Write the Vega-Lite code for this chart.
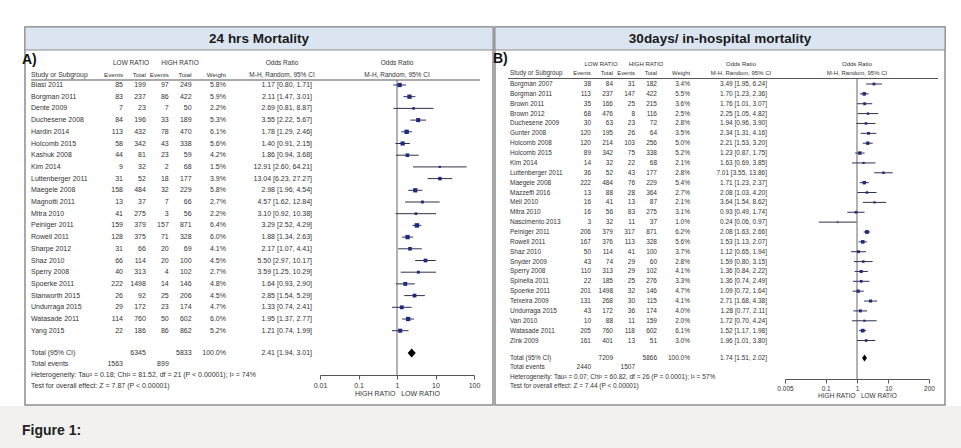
{
"$schema":"https://vega.github.io/schema/vega-lite/v6.json",
"width":961,"height":448,"autosize":{"type":"none"},"padding":0,
"background":"#f3f0f0",
"config":{"view":{"stroke":null},"text":{"font":"Liberation Sans","color":"#333333","baseline":"middle"}},
"datasets":{
"page":[{"caption":"Figure 1:"}],
"panels":[{"panel":"A","title":"24 hrs Mortality","tag":"A)","null_or":1},{"panel":"B","title":"30days/ in-hospital  mortality","tag":"B)","null_or":1}],
"hdr":[
{"panel":"A","line":"g","col":"low","text":"LOW RATIO"},
{"panel":"A","line":"g","col":"high","text":"HIGH RATIO"},
{"panel":"A","line":"g","col":"ortab","text":"Odds Ratio"},
{"panel":"A","line":"g","col":"orplot","text":"Odds Ratio"},
{"panel":"A","line":"c","col":"study","text":"Study or Subgroup"},
{"panel":"A","line":"c","col":"e1","text":"Events"},
{"panel":"A","line":"c","col":"n1","text":"Total"},
{"panel":"A","line":"c","col":"e2","text":"Events"},
{"panel":"A","line":"c","col":"n2","text":"Total"},
{"panel":"A","line":"c","col":"w","text":"Weight"},
{"panel":"A","line":"c","col":"ortab","text":"M-H, Random, 95% CI"},
{"panel":"A","line":"c","col":"orplot","text":"M-H, Random, 95% CI"},
{"panel":"B","line":"g","col":"low","text":"LOW RATIO"},
{"panel":"B","line":"g","col":"high","text":"HIGH RATIO"},
{"panel":"B","line":"g","col":"ortab","text":"Odds Ratio"},
{"panel":"B","line":"g","col":"orplot","text":"Odds Ratio"},
{"panel":"B","line":"c","col":"study","text":"Study or Subgroup"},
{"panel":"B","line":"c","col":"e1","text":"Events"},
{"panel":"B","line":"c","col":"n1","text":"Total"},
{"panel":"B","line":"c","col":"e2","text":"Events"},
{"panel":"B","line":"c","col":"n2","text":"Total"},
{"panel":"B","line":"c","col":"w","text":"Weight"},
{"panel":"B","line":"c","col":"ortab","text":"M-H, Random, 95% CI"},
{"panel":"B","line":"c","col":"orplot","text":"M-H, Random, 95% CI"}
],
"A":[
{"study":"Biasi 2011","e1":85,"n1":199,"e2":97,"n2":249,"w":5.8,"or":1.17,"lo":0.80,"hi":1.71},
{"study":"Borgman 2011","e1":83,"n1":237,"e2":86,"n2":422,"w":5.9,"or":2.11,"lo":1.47,"hi":3.01},
{"study":"Dente 2009","e1":7,"n1":23,"e2":7,"n2":50,"w":2.2,"or":2.69,"lo":0.81,"hi":8.87},
{"study":"Duchesene 2008","e1":84,"n1":196,"e2":33,"n2":189,"w":5.3,"or":3.55,"lo":2.22,"hi":5.67},
{"study":"Hardin 2014","e1":113,"n1":432,"e2":78,"n2":470,"w":6.1,"or":1.78,"lo":1.29,"hi":2.46},
{"study":"Holcomb 2015","e1":58,"n1":342,"e2":43,"n2":338,"w":5.6,"or":1.40,"lo":0.91,"hi":2.15},
{"study":"Kashuk 2008","e1":44,"n1":81,"e2":23,"n2":59,"w":4.2,"or":1.86,"lo":0.94,"hi":3.68},
{"study":"Kim 2014","e1":9,"n1":32,"e2":2,"n2":68,"w":1.5,"or":12.91,"lo":2.60,"hi":64.21},
{"study":"Luttenberger 2011","e1":31,"n1":52,"e2":18,"n2":177,"w":3.9,"or":13.04,"lo":6.23,"hi":27.27},
{"study":"Maegele 2008","e1":158,"n1":484,"e2":32,"n2":229,"w":5.8,"or":2.98,"lo":1.96,"hi":4.54},
{"study":"Magnotti 2011","e1":13,"n1":37,"e2":7,"n2":66,"w":2.7,"or":4.57,"lo":1.62,"hi":12.84},
{"study":"Mitra 2010","e1":41,"n1":275,"e2":3,"n2":56,"w":2.2,"or":3.10,"lo":0.92,"hi":10.38},
{"study":"Peiniger 2011","e1":159,"n1":379,"e2":157,"n2":871,"w":6.4,"or":3.29,"lo":2.52,"hi":4.29},
{"study":"Rowell 2011","e1":128,"n1":375,"e2":71,"n2":328,"w":6.0,"or":1.88,"lo":1.34,"hi":2.63},
{"study":"Sharpe 2012","e1":31,"n1":66,"e2":20,"n2":69,"w":4.1,"or":2.17,"lo":1.07,"hi":4.41},
{"study":"Shaz 2010","e1":66,"n1":114,"e2":20,"n2":100,"w":4.5,"or":5.50,"lo":2.97,"hi":10.17},
{"study":"Sperry 2008","e1":40,"n1":313,"e2":4,"n2":102,"w":2.7,"or":3.59,"lo":1.25,"hi":10.29},
{"study":"Spoerke 2011","e1":222,"n1":1498,"e2":14,"n2":146,"w":4.8,"or":1.64,"lo":0.93,"hi":2.90},
{"study":"Stanworth 2015","e1":26,"n1":92,"e2":25,"n2":206,"w":4.5,"or":2.85,"lo":1.54,"hi":5.29},
{"study":"Undurraga 2015","e1":29,"n1":172,"e2":23,"n2":174,"w":4.7,"or":1.33,"lo":0.74,"hi":2.41},
{"study":"Watasade 2011","e1":114,"n1":760,"e2":50,"n2":602,"w":6.0,"or":1.95,"lo":1.37,"hi":2.77},
{"study":"Yang 2015","e1":22,"n1":186,"e2":86,"n2":862,"w":5.2,"or":1.21,"lo":0.74,"hi":1.99}
],
"B":[
{"study":"Borgman 2007","e1":38,"n1":84,"e2":31,"n2":182,"w":3.4,"or":3.49,"lo":1.95,"hi":6.24},
{"study":"Borgman 2011","e1":113,"n1":237,"e2":147,"n2":422,"w":5.5,"or":1.70,"lo":1.23,"hi":2.36},
{"study":"Brown 2011","e1":35,"n1":166,"e2":25,"n2":215,"w":3.6,"or":1.76,"lo":1.01,"hi":3.07},
{"study":"Brown 2012","e1":68,"n1":476,"e2":8,"n2":116,"w":2.5,"or":2.25,"lo":1.05,"hi":4.82},
{"study":"Duchesene 2009","e1":30,"n1":63,"e2":23,"n2":72,"w":2.8,"or":1.94,"lo":0.96,"hi":3.90},
{"study":"Gunter 2008","e1":120,"n1":195,"e2":26,"n2":64,"w":3.5,"or":2.34,"lo":1.31,"hi":4.16},
{"study":"Holcomb 2008","e1":120,"n1":214,"e2":103,"n2":256,"w":5.0,"or":2.21,"lo":1.53,"hi":3.20},
{"study":"Holcomb 2015","e1":89,"n1":342,"e2":75,"n2":338,"w":5.2,"or":1.23,"lo":0.87,"hi":1.75},
{"study":"Kim 2014","e1":14,"n1":32,"e2":22,"n2":68,"w":2.1,"or":1.63,"lo":0.69,"hi":3.85},
{"study":"Luttenberger 2011","e1":36,"n1":52,"e2":43,"n2":177,"w":2.8,"or":7.01,"lo":3.55,"hi":13.86},
{"study":"Maegele 2008","e1":222,"n1":484,"e2":76,"n2":229,"w":5.4,"or":1.71,"lo":1.23,"hi":2.37},
{"study":"Mazzeffi 2016","e1":13,"n1":88,"e2":28,"n2":364,"w":2.7,"or":2.08,"lo":1.03,"hi":4.20},
{"study":"Meli 2010","e1":16,"n1":41,"e2":13,"n2":87,"w":2.1,"or":3.64,"lo":1.54,"hi":8.62},
{"study":"Mitra 2010","e1":16,"n1":56,"e2":83,"n2":275,"w":3.1,"or":0.93,"lo":0.49,"hi":1.74},
{"study":"Nascimento 2013","e1":3,"n1":32,"e2":11,"n2":37,"w":1.0,"or":0.24,"lo":0.06,"hi":0.97},
{"study":"Peiniger 2011","e1":206,"n1":379,"e2":317,"n2":871,"w":6.2,"or":2.08,"lo":1.63,"hi":2.66},
{"study":"Rowell 2011","e1":167,"n1":376,"e2":113,"n2":328,"w":5.6,"or":1.53,"lo":1.13,"hi":2.07},
{"study":"Shaz 2010","e1":50,"n1":114,"e2":41,"n2":100,"w":3.7,"or":1.12,"lo":0.65,"hi":1.94},
{"study":"Snyder 2009","e1":43,"n1":74,"e2":29,"n2":60,"w":2.8,"or":1.59,"lo":0.80,"hi":3.15},
{"study":"Sperry 2008","e1":110,"n1":313,"e2":29,"n2":102,"w":4.1,"or":1.36,"lo":0.84,"hi":2.22},
{"study":"Spinella 2011","e1":22,"n1":185,"e2":25,"n2":276,"w":3.3,"or":1.36,"lo":0.74,"hi":2.49},
{"study":"Spoerke 2011","e1":201,"n1":1498,"e2":32,"n2":146,"w":4.7,"or":1.09,"lo":0.72,"hi":1.64},
{"study":"Teixeira 2009","e1":131,"n1":268,"e2":30,"n2":115,"w":4.1,"or":2.71,"lo":1.68,"hi":4.38},
{"study":"Undurraga 2015","e1":43,"n1":172,"e2":36,"n2":174,"w":4.0,"or":1.28,"lo":0.77,"hi":2.11},
{"study":"Van 2010","e1":10,"n1":88,"e2":11,"n2":159,"w":2.0,"or":1.72,"lo":0.70,"hi":4.24},
{"study":"Watasade 2011","e1":205,"n1":760,"e2":118,"n2":602,"w":6.1,"or":1.52,"lo":1.17,"hi":1.98},
{"study":"Zink 2009","e1":161,"n1":401,"e2":13,"n2":51,"w":3.0,"or":1.96,"lo":1.01,"hi":3.80}
],
"foot":[
{"panel":"A","row":"total","label":"Total (95% CI)","n1":6345,"n2":5833,"w":100,"or":2.41,"lo":1.94,"hi":3.01},
{"panel":"A","row":"events","label":"Total events","e1":1563,"e2":899},
{"panel":"A","row":"het","label":"Heterogeneity: Tau² = 0.18; Chi² = 81.52, df = 21 (P < 0.00001); I² = 74%"},
{"panel":"A","row":"test","label":"Test for overall effect: Z = 7.87 (P < 0.00001)"},
{"panel":"B","row":"total","label":"Total (95% CI)","n1":7209,"n2":5866,"w":100,"or":1.74,"lo":1.51,"hi":2.02},
{"panel":"B","row":"events","label":"Total events","e1":2440,"e2":1507},
{"panel":"B","row":"het","label":"Heterogeneity: Tau² = 0.07; Chi² = 60.82, df = 26 (P = 0.0001); I² = 57%"},
{"panel":"B","row":"test","label":"Test for overall effect: Z = 7.44 (P < 0.00001)"}
]
},
"resolve":{"scale":{"x":"independent","y":"independent","size":"independent"}},
"layer":[
{"data":{"name":"page"},"mark":{"type":"rect","fill":"#ffffff"},
 "encoding":{"x":{"field":"caption","type":"nominal","scale":{"type":"band","range":[0,961],"padding":0},"axis":null},
 "y":{"field":"caption","type":"nominal","scale":{"type":"band","range":[0,406],"padding":0},"axis":null}}},
{"data":{"name":"page"},"mark":{"type":"text","align":"left","fontSize":14,"fontWeight":"bold","color":"#222222"},
 "encoding":{"x":{"field":"caption","type":"nominal","scale":{"type":"point","range":[22,22],"padding":0},"axis":null},
 "y":{"field":"caption","type":"nominal","scale":{"type":"point","range":[431,431],"padding":0},"axis":null},
 "text":{"field":"caption"}}},

{"data":{"name":"panels"},"transform":[{"filter":"datum.panel == 'A'"}],"mark":{"type":"rect","fill":"#ffffff","stroke":"#8c8c8c","strokeWidth":1.5},
 "encoding":{"x":{"field":"panel","type":"nominal","scale":{"type":"band","domain":["A"],"range":[25,493],"padding":0},"axis":null},
 "y":{"field":"panel","type":"nominal","scale":{"type":"band","domain":["A"],"range":[27,405],"padding":0},"axis":null}}},
{"data":{"name":"panels"},"transform":[{"filter":"datum.panel == 'A'"}],"mark":{"type":"rect","fill":"#dbe5f1","stroke":"#8c8c8c","strokeWidth":1},
 "encoding":{"x":{"field":"panel","type":"nominal","scale":{"type":"band","domain":["A"],"range":[25,493],"padding":0},"axis":null},
 "y":{"field":"panel","type":"nominal","scale":{"type":"band","domain":["A"],"range":[27,50],"padding":0},"axis":null}}},
{"data":{"name":"panels"},"transform":[{"filter":"datum.panel == 'A'"}],"mark":{"type":"text","fontSize":13.5,"fontWeight":"bold","color":"#1a1a1a"},
 "encoding":{"x":{"field":"panel","type":"nominal","scale":{"type":"band","domain":["A"],"range":[25,493],"padding":0},"axis":null},
 "y":{"field":"panel","type":"nominal","scale":{"type":"band","domain":["A"],"range":[27,50],"padding":0},"axis":null},
 "text":{"field":"title"}}},
{"data":{"name":"panels"},"transform":[{"filter":"datum.panel == 'A'"}],"mark":{"type":"text","align":"left","fontSize":14,"fontWeight":"bold","color":"#111111"},
 "encoding":{"x":{"field":"panel","type":"nominal","scale":{"type":"point","range":[22,22],"padding":0},"axis":null},
 "y":{"field":"panel","type":"nominal","scale":{"type":"point","range":[60,60],"padding":0},"axis":null},
 "text":{"field":"tag"}}},
{"data":{"name":"panels"},"transform":[{"filter":"datum.panel == 'A'"}],"mark":{"type":"rect","fill":"#555555"},
 "encoding":{"x":{"field":"panel","type":"nominal","scale":{"type":"band","domain":["A"],"range":[31,480],"padding":0},"axis":null},
 "y":{"field":"panel","type":"nominal","scale":{"type":"band","domain":["A"],"range":[79.5,80.5],"padding":0},"axis":null}}},
{"data":{"name":"panels"},"transform":[{"filter":"datum.panel == 'A'"}],"mark":{"type":"rule","color":"#666666","strokeWidth":1},
 "encoding":{"x":{"field":"null_or","type":"quantitative","scale":{"type":"log","domain":[0.01,100],"range":[320,474],"nice":false},"axis":null},
 "y":{"datum":0,"type":"quantitative","scale":{"domain":[0,1],"range":[80,375],"nice":false,"zero":false},"axis":null},
 "y2":{"datum":1}}},
{"data":{"name":"hdr"},"transform":[{"filter":"datum.panel == 'A' && datum.col == 'study'"}],"mark":{"type":"text","align":"left","fontSize":6.8},
 "encoding":{"x":{"field":"col","type":"nominal","scale":{"type":"point","range":[31,31],"padding":0},"axis":null},
 "y":{"field":"line","type":"nominal","scale":{"type":"point","domain":["g","c"],"range":[63,74.5],"padding":0},"axis":null},
 "text":{"field":"text"}}},
{"data":{"name":"hdr"},"transform":[{"filter":"datum.panel == 'A' && indexof(['e1','n1','e2','n2','w'], datum.col) >= 0"}],"mark":{"type":"text","align":"right","fontSize":6.2},
 "encoding":{"x":{"field":"col","type":"nominal","scale":{"type":"point","domain":["e1","_a","n1","_b","e2","_c","n2","_d","_e","w"],"range":[123,226],"padding":0},"axis":null},
 "y":{"field":"line","type":"nominal","scale":{"type":"point","domain":["g","c"],"range":[63,74.5],"padding":0},"axis":null},
 "text":{"field":"text"}}},
{"data":{"name":"hdr"},"transform":[{"filter":"datum.panel == 'A' && (datum.col == 'low' || datum.col == 'high')"}],"mark":{"type":"text","align":"center","fontSize":6.5},
 "encoding":{"x":{"field":"col","type":"nominal","scale":{"type":"point","domain":["low","high"],"range":[131,180],"padding":0},"axis":null},
 "y":{"field":"line","type":"nominal","scale":{"type":"point","domain":["g","c"],"range":[63,74.5],"padding":0},"axis":null},
 "text":{"field":"text"}}},
{"data":{"name":"hdr"},"transform":[{"filter":"datum.panel == 'A' && (datum.col == 'ortab' || datum.col == 'orplot')"}],"mark":{"type":"text","align":"center","fontSize":6.5},
 "encoding":{"x":{"field":"col","type":"nominal","scale":{"type":"point","domain":["ortab","orplot"],"range":[282,397],"padding":0},"axis":null},
 "y":{"field":"line","type":"nominal","scale":{"type":"point","domain":["g","c"],"range":[63,74.5],"padding":0},"axis":null},
 "text":{"field":"text"}}},
{"data":{"name":"A"},"mark":{"type":"text","align":"left","fontSize":7},
 "encoding":{"x":{"field":"study","type":"nominal","scale":{"type":"point","range":[31,31],"padding":0},"axis":null},
 "y":{"field":"study","type":"nominal","sort":null,"scale":{"type":"point","range":[85,330.7],"padding":0},"axis":null},
 "text":{"field":"study"}}},
{"data":{"name":"A"},"transform":[{"fold":["e1","n1","e2","n2","w"],"as":["col","value"]},{"calculate":"datum.col == 'w' ? format(datum.value, '.1f') + '%' : format(datum.value, 'd')","as":"label"}],
 "mark":{"type":"text","align":"right","fontSize":7},
 "encoding":{"x":{"field":"col","type":"nominal","scale":{"type":"point","domain":["e1","_a","n1","_b","e2","_c","n2","_d","_e","w"],"range":[123,226],"padding":0},"axis":null},
 "y":{"field":"study","type":"nominal","sort":null,"scale":{"type":"point","range":[85,330.7],"padding":0},"axis":null},
 "text":{"field":"label"}}},
{"data":{"name":"A"},"transform":[{"calculate":"format(datum.or, '.2f') + ' [' + format(datum.lo, '.2f') + ', ' + format(datum.hi, '.2f') + ']'","as":"ortext"}],
 "mark":{"type":"text","align":"right","fontSize":7},
 "encoding":{"x":{"field":"study","type":"nominal","scale":{"type":"point","range":[312,312],"padding":0},"axis":null},
 "y":{"field":"study","type":"nominal","sort":null,"scale":{"type":"point","range":[85,330.7],"padding":0},"axis":null},
 "text":{"field":"ortext"}}},
{"data":{"name":"A"},"mark":{"type":"rule","color":"#30304a","strokeWidth":1},
 "encoding":{"x":{"field":"lo","type":"quantitative","scale":{"type":"log","domain":[0.01,100],"range":[320,474],"nice":false},"axis":null},
 "x2":{"field":"hi"},
 "y":{"field":"study","type":"nominal","sort":null,"scale":{"type":"point","range":[85,330.7],"padding":0},"axis":null}}},
{"data":{"name":"A"},"mark":{"type":"point","shape":"square","filled":true,"color":"#1c2a80","opacity":1},
 "encoding":{"x":{"field":"or","type":"quantitative","scale":{"type":"log","domain":[0.01,100],"range":[320,474],"nice":false},
   "axis":{"orient":"bottom","offset":-73,"zindex":1,"values":[0.01,0.1,1,10,100],"format":"~g","grid":false,"domainColor":"#555555","tickColor":"#555555","tickSize":4,"labelFont":"Liberation Sans","labelFontSize":7,"labelColor":"#333333","labelPadding":2,"labelFlush":false,"labelOverlap":false,"title":"HIGH RATIO\u00a0\u00a0\u00a0LOW RATIO","titleFont":"Liberation Sans","titleFontSize":7,"titleFontWeight":"normal","titleColor":"#333333","titlePadding":1}},
 "y":{"field":"study","type":"nominal","sort":null,"scale":{"type":"point","range":[85,330.7],"padding":0},"axis":null},
 "size":{"field":"w","type":"quantitative","scale":{"domain":[0,6.4],"range":[0,20]},"legend":null}}},
{"data":{"name":"foot"},"transform":[{"filter":"datum.panel == 'A'"}],"mark":{"type":"text","align":"left","fontSize":7},
 "encoding":{"x":{"field":"row","type":"nominal","scale":{"type":"point","range":[31,31],"padding":0},"axis":null},
 "y":{"field":"row","type":"nominal","scale":{"type":"point","domain":["total","events","het","test"],"range":[353,386],"padding":0},"axis":null},
 "text":{"field":"label"}}},
{"data":{"name":"foot"},"transform":[{"filter":"datum.panel == 'A'"},{"fold":["e1","n1","e2","n2","w"],"as":["col","value"]},{"filter":"isValid(datum.value)"},{"calculate":"datum.col == 'w' ? format(datum.value, '.1f') + '%' : format(datum.value, 'd')","as":"num"}],
 "mark":{"type":"text","align":"right","fontSize":7},
 "encoding":{"x":{"field":"col","type":"nominal","scale":{"type":"point","domain":["e1","_a","n1","_b","e2","_c","n2","_d","_e","w"],"range":[123,226],"padding":0},"axis":null},
 "y":{"field":"row","type":"nominal","scale":{"type":"point","domain":["total","events","het","test"],"range":[353,386],"padding":0},"axis":null},
 "text":{"field":"num"}}},
{"data":{"name":"foot"},"transform":[{"filter":"datum.panel == 'A' && isValid(datum.or)"},{"calculate":"format(datum.or, '.2f') + ' [' + format(datum.lo, '.2f') + ', ' + format(datum.hi, '.2f') + ']'","as":"ortext"}],
 "mark":{"type":"text","align":"right","fontSize":7},
 "encoding":{"x":{"field":"row","type":"nominal","scale":{"type":"point","range":[312,312],"padding":0},"axis":null},
 "y":{"field":"row","type":"nominal","scale":{"type":"point","domain":["total","events","het","test"],"range":[353,386],"padding":0},"axis":null},
 "text":{"field":"ortext"}}},
{"data":{"name":"foot"},"transform":[{"filter":"datum.panel == 'A' && isValid(datum.or)"}],
 "mark":{"type":"point","shape":"M-0.9,0L0,-1L0.9,0L0,1Z","filled":true,"color":"#000000","opacity":1,"size":81},
 "encoding":{"x":{"field":"or","type":"quantitative","scale":{"type":"log","domain":[0.01,100],"range":[320,474],"nice":false},"axis":null},
 "y":{"field":"row","type":"nominal","scale":{"type":"point","domain":["total","events","het","test"],"range":[353,386],"padding":0},"axis":null}}},

{"data":{"name":"panels"},"transform":[{"filter":"datum.panel == 'B'"}],"mark":{"type":"rect","fill":"#ffffff","stroke":"#8c8c8c","strokeWidth":1.5},
 "encoding":{"x":{"field":"panel","type":"nominal","scale":{"type":"band","domain":["B"],"range":[495,945],"padding":0},"axis":null},
 "y":{"field":"panel","type":"nominal","scale":{"type":"band","domain":["B"],"range":[27,405],"padding":0},"axis":null}}},
{"data":{"name":"panels"},"transform":[{"filter":"datum.panel == 'B'"}],"mark":{"type":"rect","fill":"#dbe5f1","stroke":"#8c8c8c","strokeWidth":1},
 "encoding":{"x":{"field":"panel","type":"nominal","scale":{"type":"band","domain":["B"],"range":[495,945],"padding":0},"axis":null},
 "y":{"field":"panel","type":"nominal","scale":{"type":"band","domain":["B"],"range":[27,50],"padding":0},"axis":null}}},
{"data":{"name":"panels"},"transform":[{"filter":"datum.panel == 'B'"}],"mark":{"type":"text","fontSize":13.5,"fontWeight":"bold","color":"#1a1a1a"},
 "encoding":{"x":{"field":"panel","type":"nominal","scale":{"type":"band","domain":["B"],"range":[495,945],"padding":0},"axis":null},
 "y":{"field":"panel","type":"nominal","scale":{"type":"band","domain":["B"],"range":[27,50],"padding":0},"axis":null},
 "text":{"field":"title"}}},
{"data":{"name":"panels"},"transform":[{"filter":"datum.panel == 'B'"}],"mark":{"type":"text","align":"left","fontSize":14,"fontWeight":"bold","color":"#111111"},
 "encoding":{"x":{"field":"panel","type":"nominal","scale":{"type":"point","range":[493,493],"padding":0},"axis":null},
 "y":{"field":"panel","type":"nominal","scale":{"type":"point","range":[59,59],"padding":0},"axis":null},
 "text":{"field":"tag"}}},
{"data":{"name":"panels"},"transform":[{"filter":"datum.panel == 'B'"}],"mark":{"type":"rect","fill":"#555555"},
 "encoding":{"x":{"field":"panel","type":"nominal","scale":{"type":"band","domain":["B"],"range":[508,938],"padding":0},"axis":null},
 "y":{"field":"panel","type":"nominal","scale":{"type":"band","domain":["B"],"range":[78,79],"padding":0},"axis":null}}},
{"data":{"name":"panels"},"transform":[{"filter":"datum.panel == 'B'"}],"mark":{"type":"rule","color":"#666666","strokeWidth":1},
 "encoding":{"x":{"field":"null_or","type":"quantitative","scale":{"type":"log","domain":[0.005,200],"range":[785,929],"nice":false},"axis":null},
 "y":{"datum":0,"type":"quantitative","scale":{"domain":[0,1],"range":[78.5,379],"nice":false,"zero":false},"axis":null},
 "y2":{"datum":1}}},
{"data":{"name":"hdr"},"transform":[{"filter":"datum.panel == 'B' && datum.col == 'study'"}],"mark":{"type":"text","align":"left","fontSize":6.3},
 "encoding":{"x":{"field":"col","type":"nominal","scale":{"type":"point","range":[510,510],"padding":0},"axis":null},
 "y":{"field":"line","type":"nominal","scale":{"type":"point","domain":["g","c"],"range":[64,73],"padding":0},"axis":null},
 "text":{"field":"text"}}},
{"data":{"name":"hdr"},"transform":[{"filter":"datum.panel == 'B' && indexof(['e1','n1','e2','n2','w'], datum.col) >= 0"}],"mark":{"type":"text","align":"right","fontSize":5.8},
 "encoding":{"x":{"field":"col","type":"nominal","scale":{"type":"point","domain":["e1","_a","n1","_b","e2","_c","n2","_d","_e","w"],"range":[591,690],"padding":0},"axis":null},
 "y":{"field":"line","type":"nominal","scale":{"type":"point","domain":["g","c"],"range":[64,73],"padding":0},"axis":null},
 "text":{"field":"text"}}},
{"data":{"name":"hdr"},"transform":[{"filter":"datum.panel == 'B' && (datum.col == 'low' || datum.col == 'high')"}],"mark":{"type":"text","align":"center","fontSize":6},
 "encoding":{"x":{"field":"col","type":"nominal","scale":{"type":"point","domain":["low","high"],"range":[601,646],"padding":0},"axis":null},
 "y":{"field":"line","type":"nominal","scale":{"type":"point","domain":["g","c"],"range":[64,73],"padding":0},"axis":null},
 "text":{"field":"text"}}},
{"data":{"name":"hdr"},"transform":[{"filter":"datum.panel == 'B' && (datum.col == 'ortab' || datum.col == 'orplot')"}],"mark":{"type":"text","align":"center","fontSize":6},
 "encoding":{"x":{"field":"col","type":"nominal","scale":{"type":"point","domain":["ortab","orplot"],"range":[741,857],"padding":0},"axis":null},
 "y":{"field":"line","type":"nominal","scale":{"type":"point","domain":["g","c"],"range":[64,73],"padding":0},"axis":null},
 "text":{"field":"text"}}},
{"data":{"name":"B"},"mark":{"type":"text","align":"left","fontSize":6.5},
 "encoding":{"x":{"field":"study","type":"nominal","scale":{"type":"point","range":[510,510],"padding":0},"axis":null},
 "y":{"field":"study","type":"nominal","sort":null,"scale":{"type":"point","range":[84,340.5],"padding":0},"axis":null},
 "text":{"field":"study"}}},
{"data":{"name":"B"},"transform":[{"fold":["e1","n1","e2","n2","w"],"as":["col","value"]},{"calculate":"datum.col == 'w' ? format(datum.value, '.1f') + '%' : format(datum.value, 'd')","as":"label"}],
 "mark":{"type":"text","align":"right","fontSize":6.5},
 "encoding":{"x":{"field":"col","type":"nominal","scale":{"type":"point","domain":["e1","_a","n1","_b","e2","_c","n2","_d","_e","w"],"range":[591,690],"padding":0},"axis":null},
 "y":{"field":"study","type":"nominal","sort":null,"scale":{"type":"point","range":[84,340.5],"padding":0},"axis":null},
 "text":{"field":"label"}}},
{"data":{"name":"B"},"transform":[{"calculate":"format(datum.or, '.2f') + ' [' + format(datum.lo, '.2f') + ', ' + format(datum.hi, '.2f') + ']'","as":"ortext"}],
 "mark":{"type":"text","align":"right","fontSize":6.5},
 "encoding":{"x":{"field":"study","type":"nominal","scale":{"type":"point","range":[767,767],"padding":0},"axis":null},
 "y":{"field":"study","type":"nominal","sort":null,"scale":{"type":"point","range":[84,340.5],"padding":0},"axis":null},
 "text":{"field":"ortext"}}},
{"data":{"name":"B"},"mark":{"type":"rule","color":"#30304a","strokeWidth":1},
 "encoding":{"x":{"field":"lo","type":"quantitative","scale":{"type":"log","domain":[0.005,200],"range":[785,929],"nice":false},"axis":null},
 "x2":{"field":"hi"},
 "y":{"field":"study","type":"nominal","sort":null,"scale":{"type":"point","range":[84,340.5],"padding":0},"axis":null}}},
{"data":{"name":"B"},"mark":{"type":"point","shape":"square","filled":true,"color":"#1c2a80","opacity":1},
 "encoding":{"x":{"field":"or","type":"quantitative","scale":{"type":"log","domain":[0.005,200],"range":[785,929],"nice":false},
   "axis":{"orient":"bottom","offset":-69,"zindex":1,"values":[0.005,0.1,1,10,200],"format":"~g","grid":false,"domainColor":"#555555","tickColor":"#555555","tickSize":4,"labelFont":"Liberation Sans","labelFontSize":6.5,"labelColor":"#333333","labelPadding":2,"labelFlush":false,"labelOverlap":false,"title":"HIGH RATIO\u00a0\u00a0\u00a0LOW RATIO","titleFont":"Liberation Sans","titleFontSize":6.5,"titleFontWeight":"normal","titleColor":"#333333","titlePadding":1}},
 "y":{"field":"study","type":"nominal","sort":null,"scale":{"type":"point","range":[84,340.5],"padding":0},"axis":null},
 "size":{"field":"w","type":"quantitative","scale":{"domain":[0,6.2],"range":[0,14]},"legend":null}}},
{"data":{"name":"foot"},"transform":[{"filter":"datum.panel == 'B'"}],"mark":{"type":"text","align":"left","fontSize":6.5},
 "encoding":{"x":{"field":"row","type":"nominal","scale":{"type":"point","range":[510,510],"padding":0},"axis":null},
 "y":{"field":"row","type":"nominal","scale":{"type":"point","domain":["total","events","het","test"],"range":[358,386],"padding":0},"axis":null},
 "text":{"field":"label"}}},
{"data":{"name":"foot"},"transform":[{"filter":"datum.panel == 'B'"},{"fold":["e1","n1","e2","n2","w"],"as":["col","value"]},{"filter":"isValid(datum.value)"},{"calculate":"datum.col == 'w' ? format(datum.value, '.1f') + '%' : format(datum.value, 'd')","as":"num"}],
 "mark":{"type":"text","align":"right","fontSize":6.5},
 "encoding":{"x":{"field":"col","type":"nominal","scale":{"type":"point","domain":["e1","_a","n1","_b","e2","_c","n2","_d","_e","w"],"range":[591,690],"padding":0},"axis":null},
 "y":{"field":"row","type":"nominal","scale":{"type":"point","domain":["total","events","het","test"],"range":[358,386],"padding":0},"axis":null},
 "text":{"field":"num"}}},
{"data":{"name":"foot"},"transform":[{"filter":"datum.panel == 'B' && isValid(datum.or)"},{"calculate":"format(datum.or, '.2f') + ' [' + format(datum.lo, '.2f') + ', ' + format(datum.hi, '.2f') + ']'","as":"ortext"}],
 "mark":{"type":"text","align":"right","fontSize":6.5},
 "encoding":{"x":{"field":"row","type":"nominal","scale":{"type":"point","range":[767,767],"padding":0},"axis":null},
 "y":{"field":"row","type":"nominal","scale":{"type":"point","domain":["total","events","het","test"],"range":[358,386],"padding":0},"axis":null},
 "text":{"field":"ortext"}}},
{"data":{"name":"foot"},"transform":[{"filter":"datum.panel == 'B' && isValid(datum.or)"}],
 "mark":{"type":"point","shape":"M-0.7,0L0,-1L0.7,0L0,1Z","filled":true,"color":"#000000","opacity":1,"size":49},
 "encoding":{"x":{"field":"or","type":"quantitative","scale":{"type":"log","domain":[0.005,200],"range":[785,929],"nice":false},"axis":null},
 "y":{"field":"row","type":"nominal","scale":{"type":"point","domain":["total","events","het","test"],"range":[358,386],"padding":0},"axis":null}}}
]
}
